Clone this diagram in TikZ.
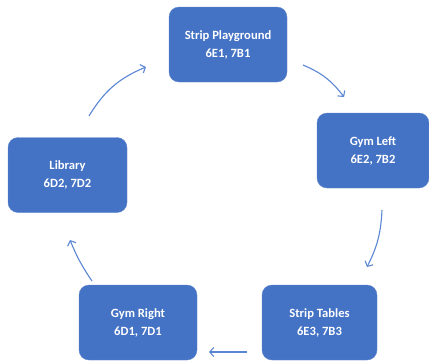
\documentclass[tikz,border=0pt]{standalone}
\usepackage{fontspec}
\setmainfont{Carlito}
\usepackage{tikz}
\usetikzlibrary{arrows.meta}
\definecolor{boxblue}{HTML}{4472C4}
\definecolor{arrowblue}{HTML}{5B86D3}
\tikzset{
  place node/.style={rectangle,rounded corners=10pt,fill=boxblue,draw=boxblue!85!white,
    text=white,font=\fontsize{12.6}{18}\selectfont\bfseries,align=center,
    minimum width=118pt,minimum height=75pt,inner sep=2pt},
  cycle arrow/.style={draw=arrowblue,->,line width=1.1pt}
}

\begin{document}
\begin{tikzpicture}[>={Straight Barb[length=4pt,width=9pt]},x=1pt,y=-1pt]
        \useasboundingbox (0,0) rectangle (429,362);

        \node[place node] (sp) at (228,44.5) {Strip Playground\\6E1, 7B1};
        \node[place node,minimum width=112pt] (gl) at (373,150.5) {Gym Left\\6E2, 7B2};
        \node[place node,minimum width=115pt] (st) at (319.5,322.5) {Strip Tables\\6E3, 7B3};
        \node[place node] (gr) at (138,322.5) {Gym Right\\6D1, 7D1};
        \node[place node,minimum width=119pt] (lib) at (67.5,175) {Library\\6D2, 7D2};

        % arrow ends, kept apart from the boxes
        \coordinate (sp out) at (303,65);
        \coordinate (gl in) at (344,97);
        \coordinate (gl out) at (382,210);
        \coordinate (st in) at (367,267);
        \coordinate (st out) at (247,352);
        \coordinate (gr in) at (209,352);
        \coordinate (gr out) at (92,281);
        \coordinate (lib in) at (70,240);
        \coordinate (lib out) at (89,116);
        \coordinate (sp in) at (146,67);

        \path[every edge/.style={cycle arrow}]
          (sp out) edge[bend left=15] (gl in)
          (gl out) edge[bend left=12] (st in)
          (st out) edge (gr in)
          (gr out) edge[bend left=6] (lib in)
          (lib out) edge[bend left=18] (sp in);
\end{tikzpicture}
\end{document}
